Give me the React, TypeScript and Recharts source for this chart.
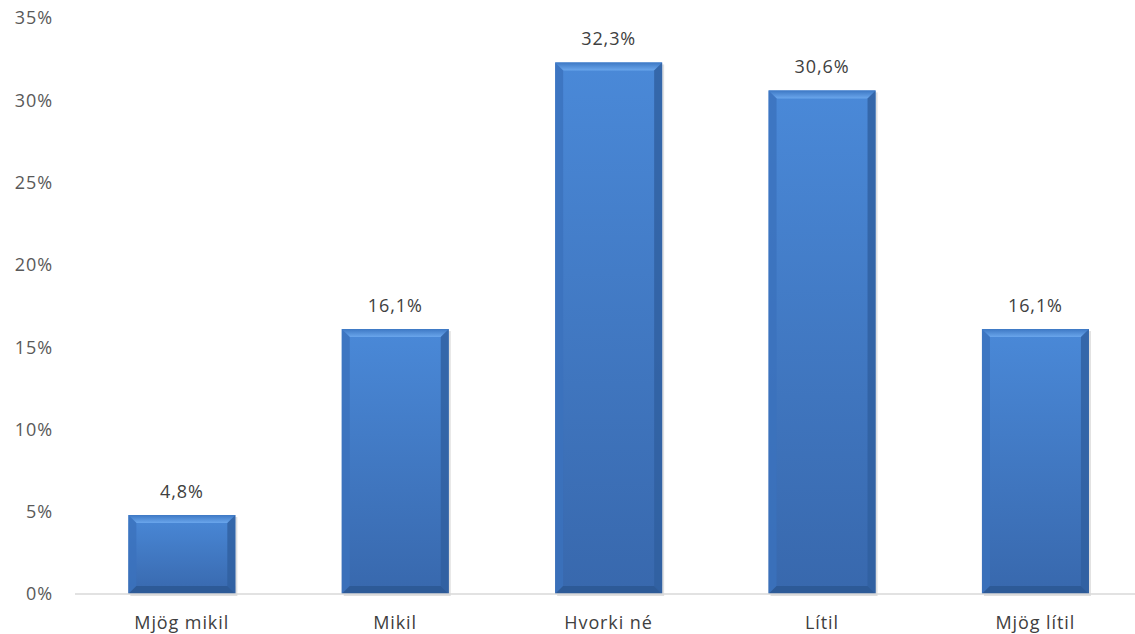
import { Bar, BarChart, LabelList, XAxis, YAxis } from "recharts"

const categories = ["Mjög mikil", "Mikil", "Hvorki né", "Lítil", "Mjög lítil"]
const shares = [4.8, 16.1, 32.3, 30.6, 16.1]
const yTicks = [0, 5, 10, 15, 20, 25, 30, 35]

const data = categories.map((name, i) => ({ name, value: shares[i] }))

const font = "'Open Sans', sans-serif"
const textStyle = { fontSize: 18, fontFamily: font, letterSpacing: 0.9 }

function BevelBar(props: any) {
  const { x, y, width, height } = props
  if (!height || height <= 0) return null
  const b = Math.min(8, height / 3)
  return (
    <g>
      <rect x={x + 2} y={y + 2} width={width} height={height} fill="#000" opacity={0.12} />
      <rect x={x} y={y} width={width} height={height} fill="url(#face)" />
      <polygon points={`${x},${y} ${x + width},${y} ${x + width - b},${y + b} ${x + b},${y + b}`} fill="url(#top)" />
      <polygon points={`${x},${y} ${x + b},${y + b} ${x + b},${y + height - b} ${x},${y + height}`} fill="#3b72bd" opacity={0.8} />
      <polygon
        points={`${x + width},${y} ${x + width},${y + height} ${x + width - b},${y + height - b} ${x + width - b},${y + b}`}
        fill="#2f5f9f"
        opacity={0.8}
      />
      <polygon
        points={`${x},${y + height} ${x + width},${y + height} ${x + width - b},${y + height - b} ${x + b},${y + height - b}`}
        fill="#2d5a97"
      />
    </g>
  )
}

const fmt = (v: number) => `${v.toFixed(1).replace(".", ",")}%`

export default function App() {
  return (
    <div style={{ position: "absolute", left: 0, top: 0, width: 1135, height: 634, overflow: "hidden", background: "#fff" }}>
      <BarChart
        width={1160}
        height={634}
        data={data}
        margin={{ top: 18, right: 18, bottom: 10, left: 0 }}
        barCategoryGap="25%"
      >
        <defs>
          <linearGradient id="face" x1="0" y1="0" x2="0" y2="1">
            <stop offset="0%" stopColor="#4a89d8" />
            <stop offset="100%" stopColor="#3868ad" />
          </linearGradient>
          <linearGradient id="top" x1="0" y1="0" x2="0" y2="1">
            <stop offset="0%" stopColor="#3d78c4" />
            <stop offset="100%" stopColor="#6aa6ec" />
          </linearGradient>
        </defs>
        <XAxis
          dataKey="name"
          tickLine={false}
          axisLine={{ stroke: "#d9d9d9", strokeWidth: 1.5 }}
          tick={{ fill: "#404040", ...textStyle }}
          tickMargin={16}
        />
        <YAxis
          domain={[0, 35]}
          ticks={yTicks}
          tickFormatter={(v) => `${v}%`}
          axisLine={false}
          tickLine={false}
          width={75}
          tickMargin={16}
          tick={{ fill: "#595959", ...textStyle }}
        />
        <Bar dataKey="value" shape={<BevelBar />} isAnimationActive={false}>
          <LabelList
            dataKey="value"
            position="top"
            offset={17}
            formatter={(v: any) => fmt(Number(v))}
            style={{ fill: "#404040", ...textStyle }}
          />
        </Bar>
      </BarChart>
    </div>
  )
}
